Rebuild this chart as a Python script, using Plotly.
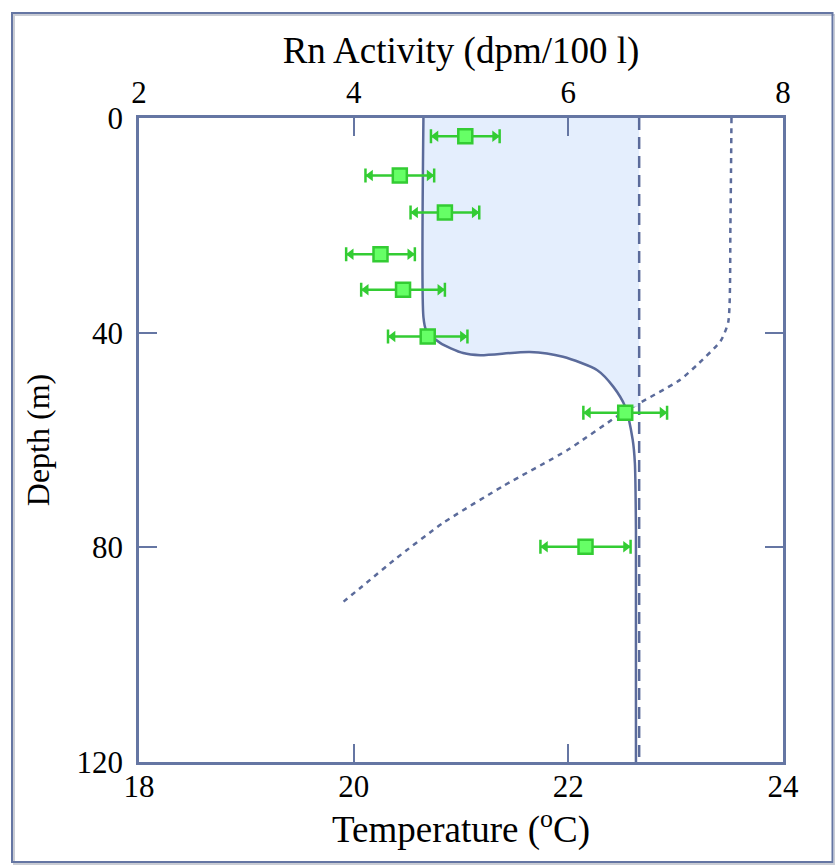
import plotly.graph_objects as go

# ---- data ----
# Rn measurements (dpm/100 l) vs depth (m)
rn_depth = [3.4, 10.7, 17.6, 25.4, 32.0, 40.7, 54.9, 79.9]
rn_value = [5.04, 4.43, 4.85, 4.25, 4.46, 4.69, 6.53, 6.16]
rn_error = [0.32, 0.32, 0.32, 0.32, 0.39, 0.37, 0.39, 0.42]

# Modelled Rn profile (solid line)
prof_rn = [4.65, 4.65, 4.675, 4.805, 5.02, 5.18, 5.64, 5.95, 6.27, 6.42, 6.53, 6.60, 6.62, 6.63, 6.63]
prof_depth = [0, 37.1, 39.5, 41.9, 43.8, 44.2, 43.6, 44.5, 47.0, 50.1, 53.8, 60.0, 64.3, 76.8, 120]

# Equilibrium (226Ra-supported) Rn level (dashed line)
ra_level = 6.66
ra_depth = [0, 120]

# Temperature profile (dotted line)
temp_value = [23.52, 23.51, 23.49, 23.42, 23.2, 23.04, 22.5, 21.99, 21.4, 20.83, 20.4, 20.12, 19.87]
temp_depth = [0, 20, 38, 41.5, 46, 48.8, 55, 61.9, 68.5, 75.5, 82, 86.6, 90.7]

# Deficit shading extends down to this depth
fill_bottom = 55

# ticks
temp_ticks = [18, 20, 22, 24]
rn_ticks = [2, 4, 6, 8]
depth_ticks = [0, 40, 80, 120]

# ---- styles ----
LINE = "#5b6b9b"
AXIS = "#6576a3"
FILL = "#e4eefd"
GREEN = "#33cc33"
GREEN_FILL = "#66ff66"
FONT = "Liberation Serif"

fig = go.Figure()

# shaded deficit area between the profile and the equilibrium line
k = [i for i, d in enumerate(prof_depth) if d <= fill_bottom]
fx = [prof_rn[i] for i in k] + [ra_level, ra_level]
fy = [prof_depth[i] for i in k] + [prof_depth[k[-1]], 0]
fig.add_trace(go.Scatter(x=fx, y=fy, xaxis="x2", yaxis="y", mode="lines",
                         fill="toself", fillcolor=FILL, line=dict(width=0),
                         hoverinfo="skip", showlegend=False))

# equilibrium dashed line
fig.add_trace(go.Scatter(x=[ra_level] * len(ra_depth), y=ra_depth, xaxis="x2", yaxis="y",
                         mode="lines", line=dict(color=LINE, width=2.5, dash="12px,7px"),
                         showlegend=False))

# temperature dotted line
fig.add_trace(go.Scatter(x=temp_value, y=temp_depth, xaxis="x", yaxis="y",
                         mode="lines", line=dict(color=LINE, width=2.5, dash="5px,5px", shape="spline", smoothing=0.6),
                         showlegend=False))

# Rn profile solid line
fig.add_trace(go.Scatter(x=prof_rn, y=prof_depth, xaxis="x2", yaxis="y",
                         mode="lines", line=dict(color=LINE, width=2.5, shape="spline", smoothing=0.7),
                         showlegend=False))

# arrow heads at the ends of the error bars
off = 0.045
fig.add_trace(go.Scatter(x=[v - e + off for v, e in zip(rn_value, rn_error)], y=rn_depth,
                         xaxis="x2", yaxis="y", mode="markers",
                         marker=dict(symbol="triangle-left", size=10, color=GREEN, line=dict(width=0)),
                         showlegend=False, hoverinfo="skip"))
fig.add_trace(go.Scatter(x=[v + e - off for v, e in zip(rn_value, rn_error)], y=rn_depth,
                         xaxis="x2", yaxis="y", mode="markers",
                         marker=dict(symbol="triangle-right", size=10, color=GREEN, line=dict(width=0)),
                         showlegend=False, hoverinfo="skip"))

# Rn measurements with error bars
fig.add_trace(go.Scatter(x=rn_value, y=rn_depth, xaxis="x2", yaxis="y", mode="markers",
                         marker=dict(symbol="square", size=14, color=GREEN_FILL,
                                     line=dict(color=GREEN, width=2.5)),
                         error_x=dict(type="data", array=rn_error, color=GREEN,
                                      thickness=2.5, width=7),
                         showlegend=False))

W, H = 835, 865
l, t = 139, 118
r = W - 783
b = H - 762
pw, ph = W - l - r, H - t - b

def px(x):
    return (x - l) / pw

def py(y):
    return (H - b - y) / ph

shapes = [
    dict(type="rect", xref="paper", yref="paper", x0=px(14), x1=px(835), y0=py(15), y1=py(864),
         line=dict(color="#c9ccd4", width=2), layer="below"),
    dict(type="rect", xref="paper", yref="paper", x0=px(12), x1=px(832.5), y0=py(13), y1=py(862),
         line=dict(color=AXIS, width=2), layer="below"),
]

tickfont = dict(family=FONT, size=31, color="black")
titlefont = dict(family=FONT, size=37, color="black")

fig.update_layout(
    width=W, height=H,
    margin=dict(l=l, r=r, t=t, b=b),
    paper_bgcolor="white", plot_bgcolor="white",
    shapes=shapes,
    xaxis=dict(range=[18, 24], tickvals=temp_ticks, ticks="inside", ticklen=18, tickwidth=2,
               tickcolor=AXIS, showline=True, linecolor=AXIS, linewidth=2.5, showgrid=False,
               zeroline=False, tickfont=tickfont, ticklabelstandoff=-5,
               title=dict(text="Temperature (<sup>o</sup>C)", font=titlefont, standoff=2)),
    xaxis2=dict(range=[2, 8], tickvals=rn_ticks, ticks="inside", ticklen=18, tickwidth=2,
                tickcolor=AXIS, showline=True, linecolor=AXIS, linewidth=2.5, showgrid=False,
                zeroline=False, overlaying="x", side="top", anchor="y", tickfont=tickfont,
                title=dict(text="Rn Activity (dpm/100 l)", font=titlefont, standoff=0)),
    yaxis=dict(range=[120, 0], tickvals=depth_ticks, ticks="inside", ticklen=18, tickwidth=2,
               tickcolor=AXIS, showline=True, linecolor=AXIS, linewidth=2.5, showgrid=False,
               zeroline=False, mirror="ticks", tickfont=tickfont, ticklabelstandoff=7,
               title=dict(text="Depth (m)", font=dict(family=FONT, size=32, color="black"), standoff=18)),
)

fig.write_html("out.html", config={"displayModeBar": False},
               post_script="document.body.style.margin='0';document.body.style.overflow='hidden';")
